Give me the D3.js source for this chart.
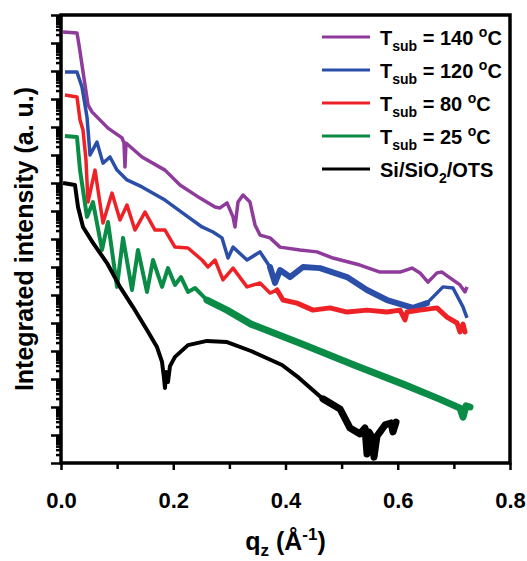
<!DOCTYPE html>
<html>
<head>
<meta charset="utf-8">
<script src="https://cdn.jsdelivr.net/npm/d3@7"></script>
<style>
  body { margin: 0; background: #fff; }
  svg text { font-family: "Liberation Sans", Arial, sans-serif; font-weight: bold; fill: #000; }
</style>
</head>
<body>
<svg width="527" height="561"></svg>
<script>
// q_z values (1/Angstrom) and log10 of integrated intensity
var q140 = [0.0036,0.0285,0.0321,0.0481,0.0552,0.0837,0.1087,0.1122,0.1140,0.1158,0.1443,0.1853,0.2120,0.2477,0.2744,0.2833,0.2958,0.3065,0.3100,0.3154,0.3243,0.3367,0.3457,0.3546,0.3724,0.3902,0.4258,0.4561,0.4846,0.5327,0.5684,0.6040,0.6254,0.6396,0.6539,0.6699,0.6788,0.6931,0.7109,0.7198,0.7234];
var logI140 = [15.39,15.36,14.93,12.79,12.54,11.96,11.61,11.43,10.57,11.43,10.93,10.46,9.93,9.46,9.14,9.11,9.29,8.79,8.43,9.32,9.57,9.32,8.50,8.14,8.04,7.71,7.61,7.54,7.32,7.07,6.82,6.82,6.96,6.79,6.46,6.79,6.82,6.61,6.36,6.11,6.29];

var q120 = [0.0071,0.0285,0.0374,0.0463,0.0517,0.0641,0.0748,0.0873,0.0998,0.1176,0.1443,0.1853,0.2263,0.2512,0.2708,0.2869,0.2976,0.3065,0.3314,0.3546,0.3724,0.3813,0.3902,0.4080,0.4312,0.4615,0.5096,0.5452,0.5808,0.6272,0.6521,0.6806,0.6984,0.7163,0.7234];
var logI120 = [13.96,13.96,13.43,12.36,11.00,11.46,10.71,10.93,10.46,10.11,9.86,9.39,8.79,8.43,8.25,8.04,7.32,7.71,7.25,7.54,7.00,6.43,6.89,6.64,7.00,6.96,6.64,6.18,5.82,5.54,5.71,6.29,6.25,5.57,5.18];

var q80 = [0.0071,0.0285,0.0339,0.0392,0.0445,0.0481,0.0606,0.0748,0.0909,0.1051,0.1176,0.1318,0.1497,0.1675,0.1853,0.2031,0.2263,0.2512,0.2619,0.2744,0.2886,0.3065,0.3314,0.3546,0.3724,0.3849,0.3955,0.4205,0.4490,0.4793,0.5096,0.5452,0.5808,0.6040,0.6129,0.6165,0.6396,0.6699,0.6877,0.7056,0.7109,0.7163,0.7198];
var logI80 = [13.14,13.07,12.25,11.89,10.82,9.32,10.46,8.57,9.64,8.68,9.21,8.32,8.96,8.32,8.32,7.71,7.68,7.25,7.00,7.25,6.54,6.96,6.29,6.43,6.07,6.18,5.82,5.71,5.46,5.54,5.39,5.46,5.39,5.46,5.11,5.39,5.46,5.54,5.21,5.00,4.68,4.96,4.68];

var q25 = [0.0071,0.0285,0.0339,0.0463,0.0570,0.0731,0.0837,0.0998,0.1105,0.1265,0.1372,0.1532,0.1639,0.1800,0.1906,0.2031,0.2138,0.2263,0.2388,0.2601,0.2958,0.3385,0.4294,0.5220,0.6129,0.6735,0.7109,0.7163,0.7216,0.7287];
var logI25 = [11.68,11.64,10.46,8.79,9.32,7.61,8.61,6.29,8.04,6.18,7.61,6.11,7.25,6.29,6.96,6.36,6.64,6.11,6.25,5.82,5.46,4.96,4.25,3.50,2.79,2.29,1.96,1.64,2.04,2.00];

var qOTS = [0.0036,0.0249,0.0303,0.0392,0.0570,0.0820,0.1051,0.1283,0.1532,0.1710,0.1800,0.1835,0.1853,0.1871,0.1906,0.1942,0.2031,0.2263,0.2601,0.2958,0.3385,0.3938,0.4241,0.4668,0.4971,0.5149,0.5327,0.5416,0.5452,0.5488,0.5541,0.5577,0.5630,0.5773,0.5880,0.5915,0.5969];
var logIOTS = [10.00,9.93,9.14,8.43,7.86,7.14,6.29,5.57,4.75,4.14,3.61,3.04,2.68,3.25,2.89,3.46,3.79,4.21,4.36,4.32,4.00,3.50,3.04,2.29,1.93,1.25,1.04,1.25,0.32,1.11,0.93,0.21,0.96,1.36,1.43,1.11,1.46];

var seriesNames = ["T_sub = 140 °C", "T_sub = 120 °C", "T_sub = 80 °C", "T_sub = 25 °C", "Si/SiO2/OTS"];
var seriesColors = ["#8e3b9c", "#2b4fa8", "#ee2226", "#0b8c46", "#000000"];
var xMajorTicks = [0, 0.2, 0.4, 0.6, 0.8];
var xMinorTicks = [0.1, 0.3, 0.5, 0.7];

var svg = d3.select("svg");
var margin = {top: 15, right: 17, bottom: 98, left: 61};
var width = 527 - margin.left - margin.right;
var height = 561 - margin.top - margin.bottom;

var g = svg.append("g").attr("transform", "translate(" + margin.left + "," + margin.top + ")");

var x = d3.scaleLinear().domain([0, 0.8]).range([0, width]);
var y = d3.scaleLog().domain([1, 1e16]).range([height, 0]);

var allQ = [q140, q120, q80, q25, qOTS];
var allL = [logI140, logI120, logI80, logI25, logIOTS];

var data = allQ.map(function(qs, i) {
    return qs.map(function(q, j) { return {q: q, I: Math.pow(10, allL[i][j])}; });
});

var line = d3.line()
    .x(function(d) { return x(d.q); })
    .y(function(d) { return y(d.I); });

// curves
g.selectAll("path.curve")
    .data(data)
    .enter()
  .append("path")
    .attr("class", "curve")
    .attr("d", line)
    .attr("fill", "none")
    .attr("stroke", function(d, i) { return seriesColors[i]; })
    .attr("stroke-width", function(d, i) { return i >= 3 ? 4 : 3.5; })
    .attr("stroke-linejoin", "round");

// noisy parts drawn thicker
var noisy = [
    {s: 1, from: 0.37, to: 0.66, w: 6},
    {s: 2, from: 0.38, to: 0.73, w: 5},
    {s: 3, from: 0.24, to: 0.73, w: 7},
    {s: 4, from: 0.44, to: 0.60, w: 7}
];
noisy.forEach(function(n) {
    g.append("path")
        .datum(data[n.s].filter(function(d) { return d.q >= n.from && d.q <= n.to; }))
        .attr("d", line).attr("fill", "none")
        .attr("stroke", seriesColors[n.s]).attr("stroke-width", n.w)
        .attr("stroke-linejoin", "round").attr("stroke-linecap", "round");
});

// axes
var xAxis = g.append("g")
    .attr("transform", "translate(0," + height + ")")
    .call(d3.axisBottom(x).tickValues(xMajorTicks).tickFormat(d3.format(".1f")).tickSize(7).tickPadding(22));
var xAxisMinor = g.append("g")
    .attr("transform", "translate(0," + height + ")")
    .call(d3.axisBottom(x).tickValues(xMinorTicks).tickFormat("").tickSize(6));

var yTicks = y.ticks(20);
var yMajor = yTicks.filter(function(v) { return Math.abs(Math.log10(v) - Math.round(Math.log10(v))) < 1e-9; });
var yMinor = yTicks.filter(function(v) { return yMajor.indexOf(v) < 0; });

var yAxis = g.append("g")
    .call(d3.axisLeft(y).tickValues(yMajor).tickFormat("").tickSize(10));
var yAxisMinor = g.append("g")
    .call(d3.axisLeft(y).tickValues(yMinor).tickFormat("").tickSize(5));

g.selectAll(".domain").remove();
g.selectAll(".tick line").attr("stroke", "#000").attr("stroke-width", 2.5);
xAxis.selectAll("text").style("font-size", "22px");

// frame
g.append("rect")
    .attr("width", width).attr("height", height)
    .attr("fill", "none").attr("stroke", "#000").attr("stroke-width", 3.5);

// legend
var legend = g.append("g").attr("transform", "translate(261,22)");
seriesNames.forEach(function(name, i) {
    var row = legend.append("g").attr("transform", "translate(0," + (i * 33) + ")");
    row.append("line")
        .attr("x1", 0).attr("x2", 48)
        .attr("stroke", seriesColors[i]).attr("stroke-width", 3);
    var t = row.append("text").attr("x", 58).attr("y", 8).style("font-size", "20px");
    if (i < 4) {
        var parts = name.split(" = ");
        t.append("tspan").text("T");
        t.append("tspan").attr("dy", 6).style("font-size", "14px").text("sub");
        t.append("tspan").attr("dy", -6).text(" = " + parts[1].replace(" °C", " "));
        t.append("tspan").attr("dy", -8).style("font-size", "14px").text("o");
        t.append("tspan").attr("dy", 8).text("C");
    } else {
        t.append("tspan").text("Si/SiO");
        t.append("tspan").attr("dy", 6).style("font-size", "14px").text("2");
        t.append("tspan").attr("dy", -6).text("/OTS");
    }
});

// axis titles
var xt = svg.append("text")
    .attr("x", margin.left + width / 2).attr("y", 550)
    .attr("text-anchor", "middle").style("font-size", "25px");
xt.append("tspan").text("q");
xt.append("tspan").attr("dy", 6).style("font-size", "17px").text("z");
xt.append("tspan").attr("dy", -6).text(" (Å");
xt.append("tspan").attr("dy", -10).style("font-size", "17px").text("-1");
xt.append("tspan").attr("dy", 10).text(")");

svg.append("text")
    .attr("transform", "translate(33," + (margin.top + height / 2) + ") rotate(-90)")
    .attr("text-anchor", "middle").style("font-size", "25px")
    .text("Integrated intensity (a. u.)");
</script>
</body>
</html>
